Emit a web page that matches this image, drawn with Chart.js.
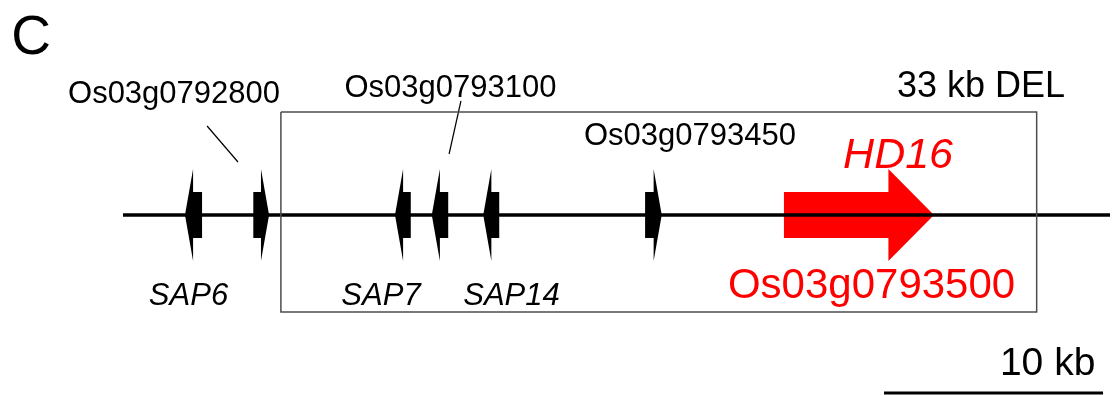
<!DOCTYPE html>
<html>
<head>
<meta charset="utf-8">
<script src="https://cdn.jsdelivr.net/npm/chart.js"></script>
<style>
  body { margin: 0; background: #fff; }
  #wrap { width: 1112px; height: 395px; position: relative; }
</style>
</head>
<body>
<div id="wrap"><canvas id="map"></canvas></div>
<script>
// 遺伝子データ (kb, 描画領域の左端から)
const geneNames  = ['SAP6', 'Os03g0792800', 'SAP7', 'Os03g0793100', 'SAP14', 'Os03g0793450', 'Os03g0793500'];
const geneStart  = [2.83, 5.95, 12.42, 14.10, 16.45, 23.84, 30.18];
const geneEnd    = [3.61, 6.67, 13.14, 14.85, 17.18, 24.60, 37.03];
const geneStrand = ['-', '+', '-', '-', '-', '+', '+'];

// 領域・欠失・スケール
const regionRange = [0, 45.07];
const delRange    = [7.21, 41.72];
const delLabel    = '33 kb DEL';
const scaleRange  = [34.75, 44.75];
const scaleLabel  = '10 kb';
const panelLabel  = 'C';

// ---- 以下は見た目の設定 ----
const KB_PX = 21.9;
const X_MIN = -123 / KB_PX, X_MAX = 989 / KB_PX;
const Y_MIN = -180, Y_MAX = 215;
const BODY = 23, BARB = 46;
const BOX_TOP = 103, BOX_BOTTOM = -97;
const geneHead = [0.37, 0.37, 0.37, 0.37, 0.37, 0.37, 2.08];
const geneColor = ['#000', '#000', '#000', '#000', '#000', '#000', '#ff0000'];
const FONT = '"Liberation Sans", Arial, sans-serif';

// テキスト注釈 (x: kb, y: 線からの高さ)
const annotations = [
    { text: panelLabel, x: -4.2, y: 161, font: '55px ' + FONT, color: '#000' },
    { text: 'Os03g0792800', x: 2.33, y: 112, font: '31px ' + FONT, color: '#000' },
    { text: 'Os03g0793100', x: 14.95, y: 118, font: '31px ' + FONT, color: '#000' },
    { text: 'Os03g0793450', x: 25.89, y: 70, font: '31px ' + FONT, color: '#000' },
    { text: 'HD16', x: 35.39, y: 47, font: 'italic 43px ' + FONT, color: '#ff0000' },
    { text: 'Os03g0793500', x: 34.18, y: -83, font: '42px ' + FONT, color: '#ff0000' },
    { text: 'SAP6', x: 2.99, y: -90, font: 'italic 31px ' + FONT, color: '#000' },
    { text: 'SAP7', x: 11.78, y: -90, font: 'italic 31px ' + FONT, color: '#000' },
    { text: 'SAP14', x: 17.74, y: -90, font: 'italic 31px ' + FONT, color: '#000' },
    { text: delLabel, x: 39.18, y: 118, font: '36px ' + FONT, color: '#000' },
    { text: scaleLabel, x: 42.22, y: -160, font: '39px ' + FONT, color: '#000' }
];

// 引き出し線
const leaders = [
    [{ x: 3.84, y: 89 }, { x: 5.25, y: 53 }],
    [{ x: 15.43, y: 114 }, { x: 14.89, y: 61 }]
];

// 遺伝子の矢印形
function genePolygon(i) {
    const s = geneStart[i], e = geneEnd[i], h = geneHead[i];
    if (geneStrand[i] === '+') {
        const n = e - h;
        return [
            { x: s, y: BODY }, { x: n, y: BODY }, { x: n, y: BARB }, { x: e, y: 0 },
            { x: n, y: -BARB }, { x: n, y: -BODY }, { x: s, y: -BODY }
        ];
    }
    const n = s + h;
    return [
        { x: e, y: BODY }, { x: n, y: BODY }, { x: n, y: BARB }, { x: s, y: 0 },
        { x: n, y: -BARB }, { x: n, y: -BODY }, { x: e, y: -BODY }
    ];
}

const datasets = [];

// 欠失ボックス
datasets.push({
    data: [
        { x: delRange[0], y: BOX_TOP }, { x: delRange[1], y: BOX_TOP },
        { x: delRange[1], y: BOX_BOTTOM }, { x: delRange[0], y: BOX_BOTTOM }, { x: delRange[0], y: BOX_TOP }
    ],
    borderColor: '#4d4d4d', borderWidth: 1.5, fill: false
});

// 染色体の線
datasets.push({
    data: [{ x: regionRange[0], y: 0 }, { x: regionRange[1], y: 0 }],
    borderColor: '#000', borderWidth: 3.5, fill: false
});

// 遺伝子
geneNames.forEach((name, i) => {
    datasets.push({
        label: name,
        data: genePolygon(i),
        borderColor: 'transparent',
        backgroundColor: geneColor[i],
        fill: 'shape'
    });
});

// 引き出し線
leaders.forEach(pts => {
    datasets.push({ data: pts, borderColor: '#000', borderWidth: 1.2, fill: false });
});

// スケールバー
datasets.push({
    data: [{ x: scaleRange[0], y: -178 }, { x: scaleRange[1], y: -178 }],
    borderColor: '#000', borderWidth: 3, fill: false
});

const textPlugin = {
    id: 'annotText',
    afterDatasetsDraw(chart) {
        const ctx = chart.ctx;
        const xs = chart.scales.x, ys = chart.scales.y;
        ctx.save();
        ctx.textAlign = 'center';
        ctx.textBaseline = 'alphabetic';
        annotations.forEach(a => {
            ctx.font = a.font;
            ctx.fillStyle = a.color;
            ctx.fillText(a.text, xs.getPixelForValue(a.x), ys.getPixelForValue(a.y));
        });
        ctx.restore();
    }
};

new Chart(document.getElementById('map').getContext('2d'), {
    type: 'scatter',
    data: { datasets: datasets },
    options: {
        responsive: true,
        maintainAspectRatio: false,
        animation: false,
        showLine: true,
        clip: false,
        elements: { point: { radius: 0, hoverRadius: 0 }, line: { tension: 0 } },
        layout: { padding: 0 },
        plugins: { legend: { display: false }, tooltip: { enabled: false } },
        scales: {
            x: { type: 'linear', display: false, min: X_MIN, max: X_MAX },
            y: { type: 'linear', display: false, min: Y_MIN, max: Y_MAX }
        }
    },
    plugins: [textPlugin]
});
</script>
</body>
</html>
